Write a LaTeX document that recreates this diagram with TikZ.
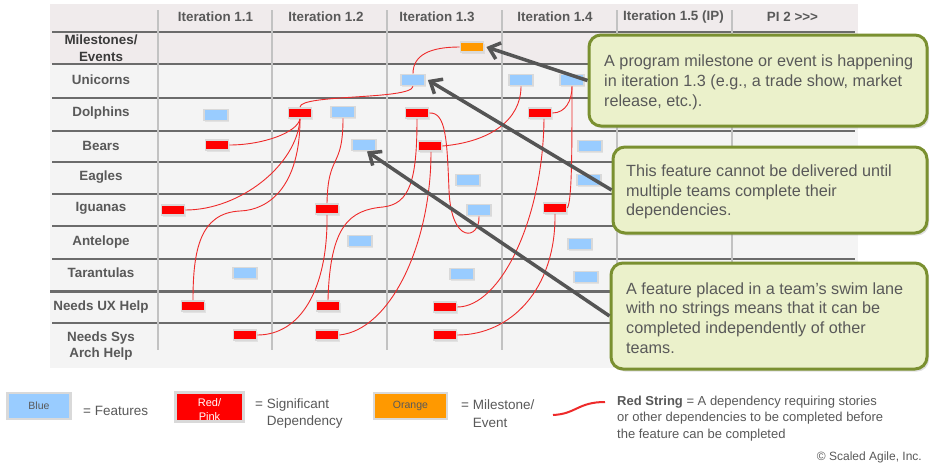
\documentclass[tikz,border=0pt]{standalone}
\usepackage{fontspec}
\setmainfont{Liberation Sans}
\usetikzlibrary{arrows.meta,shadows}
\definecolor{txt}{HTML}{595959}
\definecolor{darktxt}{HTML}{3A3A3A}
\definecolor{featblue}{HTML}{99CCFF}
\definecolor{depred}{HTML}{FF0000}
\definecolor{msorange}{HTML}{FF9900}
\definecolor{boxgrey}{HTML}{D9D9D9}
\definecolor{strred}{HTML}{EE2A2A}
\definecolor{gridh}{HTML}{6B6B6B}
\definecolor{gridv}{HTML}{C2C2C2}
\definecolor{arrowgrey}{HTML}{555555}
\definecolor{callfill}{HTML}{EBF1CB}
\definecolor{callborder}{HTML}{7A9030}
\definecolor{paneltop}{HTML}{F0EBEC}
\definecolor{panelbot}{HTML}{F4F4F4}
\begin{document}
\begin{tikzpicture}[x=1pt,y=-1pt,
  boxshadow/.style={drop shadow={shadow xshift=1pt,shadow yshift=-1.5pt,opacity=0.15}},
  feat/.style={draw=boxgrey,line width=1.8pt,fill=featblue,minimum width=24pt,minimum height=11pt,inner sep=0pt,boxshadow},
  dep/.style={draw=boxgrey,line width=1.8pt,fill=depred,minimum width=23pt,minimum height=10pt,inner sep=0pt,boxshadow},
  mstone/.style={draw=boxgrey,line width=1.8pt,fill=msorange,minimum width=23pt,minimum height=10pt,inner sep=0pt,boxshadow},
  strng/.style={draw=strred,line width=0.9pt},
  hdr/.style={text=txt,font=\fontsize{13.4}{15}\selectfont\bfseries,inner sep=0pt},
  rowlbl/.style={text=txt,font=\fontsize{13.4}{16.5}\selectfont\bfseries,align=center,inner sep=0pt},
  hl/.style={draw=gridh,line width=1.3pt},
  vl/.style={draw=gridv,line width=1.5pt},
  callout/.style={draw=callborder,line width=3pt,fill=callfill,rounded corners=12pt,
     drop shadow={shadow xshift=2pt,shadow yshift=-2.5pt,opacity=0.25}},
  ctext/.style={text=txt,font=\fontsize{16.2}{19.7}\selectfont,align=left,inner sep=0pt,anchor=west},
  callarrow/.style={draw=arrowgrey,line width=3.5pt,-{Straight Barb[length=10pt,width=17pt]}},
  legtext/.style={text=txt,font=\fontsize{13.5}{17.5}\selectfont,align=left,inner sep=0pt,anchor=west},
  legbox/.style={draw=boxgrey,line width=2.2pt,inner sep=0pt},
]
\useasboundingbox (0,0) rectangle (930,466);
\fill[white] (0,0) rectangle (930,466);
% panel
\fill[panelbot] (50,4) rectangle (858,368);
\fill[paneltop] (50,4) rectangle (858,64);
\foreach \y in {32,64,98,131,162,194,226,259,323} \draw[hl] (52,\y) -- (855,\y);
\draw[draw=gridh,line width=3pt] (50,291) -- (855,291);
\foreach \x in {158,272,387,502,617,732} \draw[vl] (\x,10) -- (\x,350);
% headers
\node[hdr] (h1) at (215.5,17) {Iteration 1.1};
\node[hdr] (h2) at (326,17) {Iteration 1.2};
\node[hdr] (h3) at (437,17) {Iteration 1.3};
\node[hdr] (h4) at (555,17) {Iteration 1.4};
\node[hdr] (h5) at (673.5,17) {Iteration 1.5 (IP)};
\node[hdr] (h6) at (792.5,17) {PI 2 >{}>{}>};
% row labels
\node[rowlbl,text=darktxt] (r0) at (101,48) {Milestones/\\Events};
\node[rowlbl] (r1) at (101,80) {Unicorns};
\node[rowlbl] (r2) at (101,113) {Dolphins};
\node[rowlbl] (r3) at (101,146) {Bears};
\node[rowlbl] (r4) at (101,177) {Eagles};
\node[rowlbl] (r5) at (101,208) {Iguanas};
\node[rowlbl] (r6) at (101,242) {Antelope};
\node[rowlbl] (r7) at (101,273) {Tarantulas};
\node[rowlbl] (r8) at (101,307) {Needs UX Help};
\node[rowlbl] (r9) at (101,346) {Needs Sys\\Arch Help};
% milestone
\node[mstone] (ms13) at (472,47) {};
% features
\node[feat] (u13) at (413,80) {};
\node[feat] (d11) at (216,115) {};
\node[feat] (d12b) at (343,112) {};
\node[feat] (b12) at (364,145) {};
\node[feat] (e13) at (468,180) {};
\node[feat] (u14a) at (521,80) {};
\node[feat] (u14b) at (572,80) {};
\node[feat] (b14) at (590,146) {};
\node[feat] (e14) at (589,180) {};
\node[feat] (i13) at (479,210) {};
\node[feat] (a12) at (360,241) {};
\node[feat] (a14) at (580,244) {};
\node[feat] (t11) at (245,273) {};
\node[feat] (t13) at (462,274) {};
\node[feat] (t14) at (586,277) {};
% dependencies
\node[dep] (d12) at (300,113) {};
\node[dep] (d13) at (417,113) {};
\node[dep] (b11) at (217,145) {};
\node[dep] (b13) at (430,146) {};
\node[dep] (d14) at (540,113) {};
\node[dep] (i14) at (555,208) {};
\node[dep] (i11) at (173,210) {};
\node[dep] (i12) at (327,209) {};
\node[dep] (ux11) at (193,306) {};
\node[dep] (ux12) at (328,306) {};
\node[dep] (ux13) at (445,307) {};
\node[dep] (sa11) at (245,335) {};
\node[dep] (sa12) at (327,335) {};
\node[dep] (sa13) at (445,335) {};
% strings
\draw[strng] (ms13.west) .. controls (430,47) and (413,55) .. (u13.north);
\draw[strng] (u13.south) .. controls (411,100) and (300,94) .. (d12.north);
\draw[strng] (d12.south) .. controls (297,133) and (262,145) .. (b11.east);
\draw[strng] (d12.south) .. controls (297,165) and (240,210) .. (i11.east);
\draw[strng] (d12.south) .. controls (300,185) and (270,210) .. (240,211) .. controls (200,213) and (193,250) .. (ux11.north);
\draw[strng] (d12b.south) .. controls (343,170) and (328,152) .. (i12.north);
\draw[strng] (i12.south) .. controls (328,290) and (300,335) .. (sa11.east);
\draw[strng] (ux12.north) .. controls (330,225) and (350,210) .. (383,207) .. controls (410,204) and (417,180) .. (d13.south);
\draw[strng] (sa12.east) .. controls (390,330) and (431,245) .. ([xshift=1pt]b13.south);
\draw[strng] (d13.east) .. controls (446,112) and (447,140) .. (449,190) .. controls (451,245) and (480,240) .. (i13.south);
\draw[strng] (b13.east) .. controls (490,142) and (521,120) .. (u14a.south);
\draw[strng] (d14.east) .. controls (566,113) and (572,100) .. (u14b.south);
\draw[strng] (u14b.south) .. controls (572,150) and (572,200) .. (i14.east);
\draw[strng] ([xshift=4pt]d14.south) .. controls (543,220) and (500,307) .. (ux13.east);
\draw[strng] (i14.south) .. controls (556,290) and (510,335) .. (sa13.east);
% callouts
\node[callout,minimum width=338pt,minimum height=91pt] (c1) at (758,80.5) {};
\node[ctext] (c1t) at (604,82.5) {A program milestone or event is happening\\in iteration 1.3 (e.g., a trade show, market\\release, etc.).};
\node[callout,minimum width=314pt,minimum height=86pt] (c2) at (770,190) {};
\node[ctext] (c2t) at (626,192) {This feature cannot be delivered until\\multiple teams complete their\\dependencies.};
\node[callout,minimum width=316pt,minimum height=106pt] (c3) at (769,316) {};
\node[ctext] (c3t) at (626,318) {A feature placed in a team’s swim lane\\with no strings means that it can be\\completed independently of other\\teams.};
% arrows
\draw[callarrow] (c1.west) -- ([xshift=2pt]ms13.east);
\draw[callarrow] (c2.west) -- ([xshift=2pt]u13.east);
\draw[callarrow] (c3.west) -- ([xshift=3pt]b12.south);
% legend
\node[legbox,fill=featblue,minimum width=63pt,minimum height=26pt,font=\fontsize{10.5}{12}\selectfont,text=txt] (lb) at (39,406) {Blue};
\node[legtext] (lbt) at (83,411) {= Features};
\node[legbox,fill=depred,minimum width=68pt,minimum height=29pt] (lr) at (209.5,407) {};
\begin{scope}
\clip (lr.north west) rectangle ([yshift=-1pt]lr.south east);
\node[text=white,font=\fontsize{11}{14}\selectfont,align=center,inner sep=0pt] (lrt) at (209.5,410) {Red/\\Pink};
\end{scope}
\node[legtext] (lrx) at (255,413.5) {= Significant\\\phantom{= }Dependency};
\node[legbox,fill=msorange,minimum width=73pt,minimum height=26pt,font=\fontsize{10.5}{12}\selectfont,text=txt] (lo) at (410.5,406) {Orange};
\node[legtext] (lox) at (461,413.5) {= Milestone/\\\phantom{= }Event};
\coordinate (sq1) at (553,415);
\coordinate (sq2) at (605,402);
\draw[strng,line width=2pt] (sq1) .. controls (576,414) and (578,402) .. (sq2);
\node[legtext,font=\fontsize{13}{16.5}\selectfont] (lst) at (617,418.5) {\textbf{Red String} = A dependency requiring stories\\or other dependencies to be completed before\\the feature can be completed};
\node[text=txt,font=\fontsize{12}{14}\selectfont,inner sep=0pt,anchor=east] (cp) at (922,457) {© Scaled Agile, Inc.};
\end{tikzpicture}
\end{document}
